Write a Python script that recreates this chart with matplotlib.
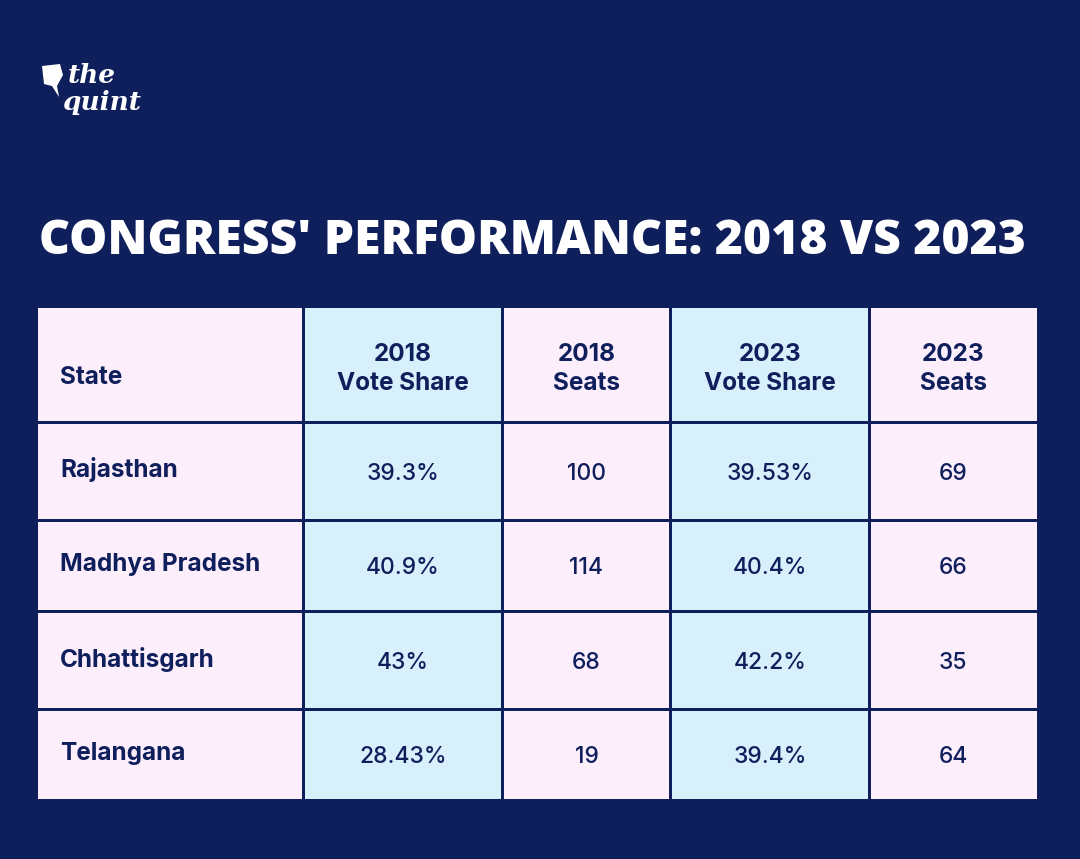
import matplotlib
matplotlib.use("Agg")
from matplotlib import pyplot as plt
from matplotlib.patches import Rectangle, Polygon

# data
title = "CONGRESS' PERFORMANCE: 2018 VS 2023"
headers = ["State", "2018\nVote Share", "2018\nSeats", "2023\nVote Share", "2023\nSeats"]
states = ["Rajasthan", "Madhya Pradesh", "Chhattisgarh", "Telangana"]
vote_2018 = ["39.3%", "40.9%", "43%", "28.43%"]
seats_2018 = ["100", "114", "68", "19"]
vote_2023 = ["39.53%", "40.4%", "42.2%", "39.4%"]
seats_2023 = ["69", "66", "35", "64"]

NAVY = "#0f1f5c"
PINK = "#fdeefc"
BLUE = "#d8effc"

# layout in pixels
col_edges = [38, 303.5, 502.5, 670.5, 869.5, 1037]
row_edges = [308, 422, 520, 611, 709.5, 799]
col_colors = [PINK, BLUE, PINK, BLUE, PINK]

fig = plt.figure(figsize=(10.8, 8.59), dpi=100, facecolor=NAVY)
ax = fig.add_axes([0, 0, 1, 1])
ax.set_xlim(0, 1080)
ax.set_ylim(859, 0)
ax.axis("off")
ax.set_facecolor(NAVY)

font = ["Inter", "DejaVu Sans"]

# logo
bubble = Polygon([(42, 66), (60, 64), (63, 75), (57, 86), (59, 97), (52, 86), (44, 84)],
                 closed=True, facecolor="white", edgecolor="none")
ax.add_patch(bubble)
ax.text(68, 83, "the", color="white", fontsize=19, family="DejaVu Serif",
        style="italic", weight="bold", va="baseline", ha="left")
ax.text(62, 110, "quint", color="white", fontsize=19, family="DejaVu Serif",
        style="italic", weight="bold", va="baseline", ha="left")

# title
ax.text(532.5, 242, title, color="white", fontsize=34.6, family=["Open Sans", "DejaVu Sans"],
        weight="heavy", ha="center", va="center")

# cells
gap = 3
for r in range(len(row_edges) - 1):
    for c in range(len(col_edges) - 1):
        x0 = col_edges[c] + (gap / 2 if c > 0 else 0)
        x1 = col_edges[c + 1] - (gap / 2 if c < len(col_edges) - 2 else 0)
        y0 = row_edges[r] + (gap / 2 if r > 0 else 0)
        y1 = row_edges[r + 1] - (gap / 2 if r < len(row_edges) - 2 else 0)
        ax.add_patch(Rectangle((x0, y0), x1 - x0, y1 - y0, facecolor=col_colors[c],
                               edgecolor="none"))

def col_center(c):
    return (col_edges[c] + col_edges[c + 1]) / 2

# header
ax.text(60, 378, headers[0], color=NAVY, fontsize=17.5, family=font, weight="bold",
        ha="left", va="center")
for c in range(1, 5):
    ax.text(col_center(c), 369, headers[c], color=NAVY, fontsize=17.5, family=font,
            weight="bold", ha="center", va="center", linespacing=1.38)

# body
columns = [vote_2018, seats_2018, vote_2023, seats_2023]
for r, st in enumerate(states):
    yc = (row_edges[r + 1] + row_edges[r + 2]) / 2
    ax.text(60, yc - 1, st, color=NAVY, fontsize=17.5, family=font, weight="bold",
            ha="left", va="center")
    for c, vals in enumerate(columns):
        ax.text(col_center(c + 1), yc + 3, vals[r], color=NAVY, fontsize=16.5, family=font,
                weight="medium", ha="center", va="center")

fig.savefig("out.png", dpi=100, facecolor=NAVY)
